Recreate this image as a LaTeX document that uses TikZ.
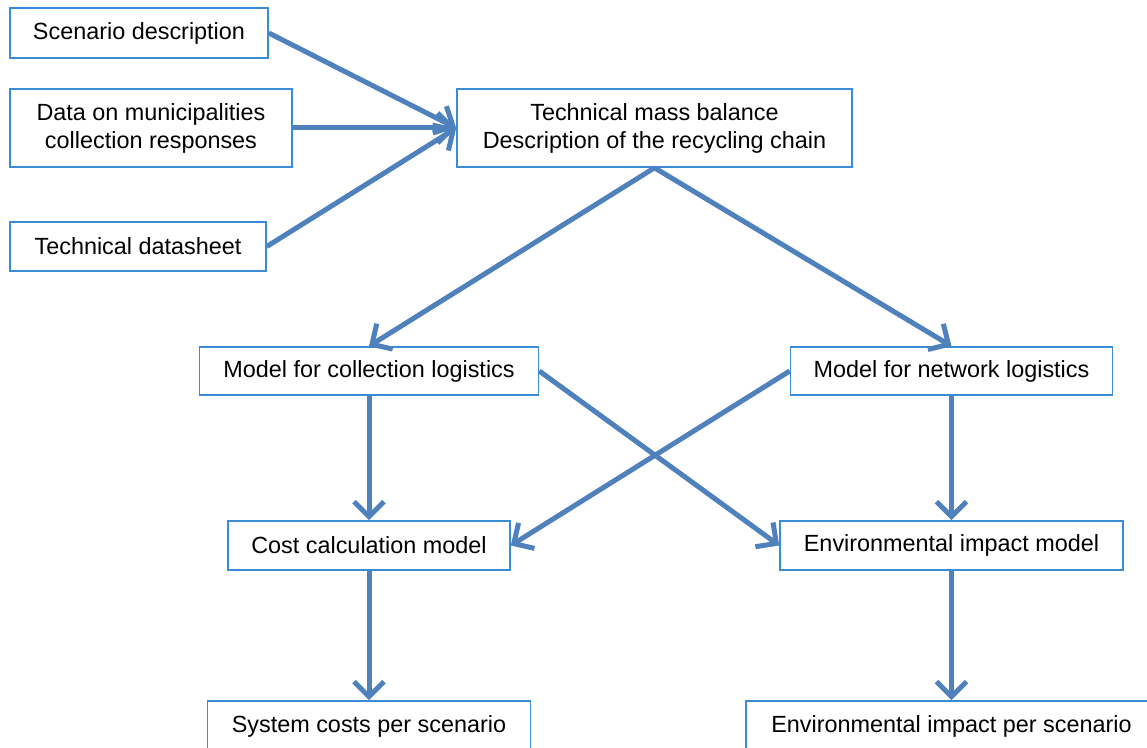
\documentclass[tikz,border=0pt]{standalone}
\usepackage{fontspec}
\setmainfont{Liberation Sans}
\usetikzlibrary{arrows.meta}
\definecolor{boxblue}{RGB}{58,140,214}
\definecolor{arrblue}{RGB}{79,129,189}
\begin{document}
\begin{tikzpicture}[x=0.5pt,y=-0.5pt,
  box/.style={draw=boxblue, line width=0.8pt, fill=white, inner sep=0pt,
    align=center, font=\fontsize{11.7pt}{14pt}\selectfont, text=black},
  flow/.style={draw=arrblue, line width=2.5pt,
    -{Straight Barb[length=7.5pt,width=15pt,line width=2.5pt]}}]
\useasboundingbox (0,0) rectangle (1147,748);
\clip (0,0) rectangle (1147,748);
\fill[white] (0,0) rectangle (1147,748);
% nodes
\node[box, minimum width=129pt, minimum height=25pt] (sd) at (139,33) {Scenario description};
\node[box, minimum width=141pt, minimum height=39pt] (dm) at (151,128) {Data on municipalities\\collection responses};
\node[box, minimum width=128pt, minimum height=24.5pt] (td) at (138,246.5) {Technical datasheet};
\node[box, minimum width=197.5pt, minimum height=39pt] (mb) at (654.5,128) {Technical mass balance\\Description of the recycling chain};
\node[box, minimum width=169.5pt, minimum height=24pt] (mc) at (369,371) {Model for collection logistics};
\node[box, minimum width=161pt, minimum height=24pt] (mn) at (951.5,371) {Model for network logistics};
\node[box, minimum width=141pt, minimum height=24.5pt] (cc) at (369,545.5) {Cost calculation model};
\node[box, minimum width=171.5pt, minimum height=24.5pt] (em) at (951.5,545.5) {Environmental impact model};
\node[box, minimum width=161.5pt, minimum height=25pt] (sc) at (369,726) {System costs per scenario};
\node[box, minimum width=205.5pt, minimum height=25pt] (ep) at (951.5,726) {Environmental impact per scenario};
% connectors
\draw[flow] (sd.east) -- (mb.west);
\draw[flow] (dm.east) -- (mb.west);
\draw[flow] (td.east) -- (mb.west);
\draw[flow] (mb.south) -- (mc.north);
\draw[flow] (mb.south) -- (mn.north);
\draw[flow] (mc.east) -- (em.west);
\draw[flow] (mn.west) -- (cc.east);
\draw[flow] (mc.south) -- (cc.north);
\draw[flow] (mn.south) -- (em.north);
\draw[flow] (cc.south) -- (sc.north);
\draw[flow] (em.south) -- (ep.north);
\end{tikzpicture}
\end{document}
